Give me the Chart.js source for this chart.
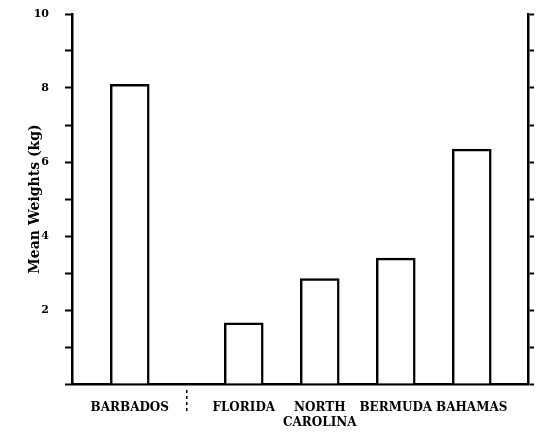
<!DOCTYPE html>
<html>
<head>
<meta charset="utf-8">
<script src="https://cdn.jsdelivr.net/npm/chart.js@4"></script>
<style>
  html, body { margin: 0; padding: 0; background: #fff; }
  #wrap { width: 537px; height: 438px; }
</style>
</head>
<body>
<div id="wrap"><canvas id="c" width="537" height="438"></canvas></div>
<script>
// Sampling locations and their mean weights (kg)
const categories = ['BARBADOS', 'FLORIDA', ['NORTH', 'CAROLINA'], 'BERMUDA', 'BAHAMAS'];
const positions = [0, 1.5, 2.5, 3.5, 4.5];
const meanWeights = [8.1, 1.65, 2.85, 3.4, 6.35];
const labelledTicks = [2, 4, 6, 8, 10];
const separatorAt = 0.75;

const INK = '#000';
const FONT = '"DejaVu Serif", "Liberation Serif", serif';

// Dotted divider between Barbados and the remaining sites, below the axis
const separatorPlugin = {
  id: 'separator',
  afterDraw(chart) {
    const { ctx, chartArea, scales } = chart;
    const x = scales.x.getPixelForValue(separatorAt);
    ctx.save();
    ctx.strokeStyle = INK;
    ctx.lineWidth = 1.5;
    ctx.setLineDash([3, 3]);
    ctx.beginPath();
    ctx.moveTo(x, chartArea.bottom + 6);
    ctx.lineTo(x, chartArea.bottom + 28);
    ctx.stroke();
    ctx.restore();
  }
};

// Keep the vertical axes flush with the plot top
function fitVertical(width) {
  return scale => {
    scale.width = width;
    scale.paddingTop = 0;
    scale.paddingBottom = 0;
  };
}

new Chart(document.getElementById('c'), {
  type: 'bar',
  data: {
    datasets: [{
      data: positions.map((p, i) => ({ x: p, y: meanWeights[i] })),
      backgroundColor: '#fff',
      borderColor: INK,
      borderWidth: 2.5,
      borderSkipped: 'bottom',
      barThickness: 39
    }]
  },
  options: {
    responsive: false,
    animation: false,
    layout: { padding: { top: 14, left: 0, right: 0, bottom: 0 } },
    plugins: { legend: { display: false }, tooltip: { enabled: false } },
    scales: {
      x: {
        type: 'linear',
        offset: false,
        min: -0.76,
        max: 5.24,
        afterBuildTicks(scale) { scale.ticks = positions.map(v => ({ value: v })); },
        afterFit(scale) { scale.height = 54; },
        ticks: {
          autoSkip: false,
          maxRotation: 0,
          padding: 17,
          color: INK,
          font: { family: FONT, size: 12, weight: 'bold' },
          callback: v => categories[positions.indexOf(v)]
        },
        grid: { drawOnChartArea: false, drawTicks: false },
        border: { display: true, color: INK, width: 2.5 }
      },
      y: {
        position: 'left',
        min: 0,
        max: 10,
        afterFit: fitVertical(72),
        ticks: {
          stepSize: 1,
          padding: 16,
          color: INK,
          font: { family: FONT, size: 11, weight: 'bold' },
          callback: v => labelledTicks.includes(v) ? String(v) : ''
        },
        grid: { drawOnChartArea: false, drawTicks: true, tickLength: 7, tickWidth: 2, color: INK },
        border: { display: true, color: INK, width: 2.5 },
        title: {
          display: true,
          text: 'Mean Weights (kg)',
          color: INK,
          padding: { top: 27, bottom: 0 },
          font: { family: FONT, size: 14, weight: 'bold' }
        }
      },
      yRight: {
        position: 'right',
        min: 0,
        max: 10,
        afterFit: fitVertical(9),
        ticks: { stepSize: 1, display: false },
        grid: { drawOnChartArea: false, drawTicks: true, tickLength: 6, tickWidth: 2, color: INK },
        border: { display: true, color: INK, width: 2.5 }
      }
    }
  },
  plugins: [separatorPlugin]
});
</script>
</body>
</html>
